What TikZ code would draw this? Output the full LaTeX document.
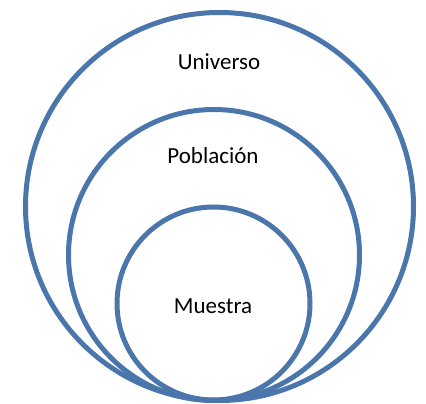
\documentclass[tikz,border=0pt]{standalone}
\usepackage{fontspec}
\setmainfont{Carlito}
\usepackage{xcolor}
\usetikzlibrary{calc}
\definecolor{ringblue}{RGB}{74,118,172}
\tikzset{ring/.style={line width=5pt,color=ringblue},
         lbl/.style={font=\fontsize{23}{27}\selectfont,color=black}}
\begin{document}
\begin{tikzpicture}[line cap=round,line join=round,x=1pt,y=1pt]
                \useasboundingbox (0,0) rectangle (426,404);
                \draw [ring] (219.5,197.5) circle (194pt);
                \draw [ring] (214,149) circle (145.5pt);
                \draw [ring] (213.5,100.5) circle (96.5pt);
                \node[lbl] (universo) at (219,342) {Universo};
                \node[lbl] (poblacion) at (213,248) {Población};
                \node[lbl] (muestra) at (213,98) {Muestra};
            \end{tikzpicture}
\end{document}
